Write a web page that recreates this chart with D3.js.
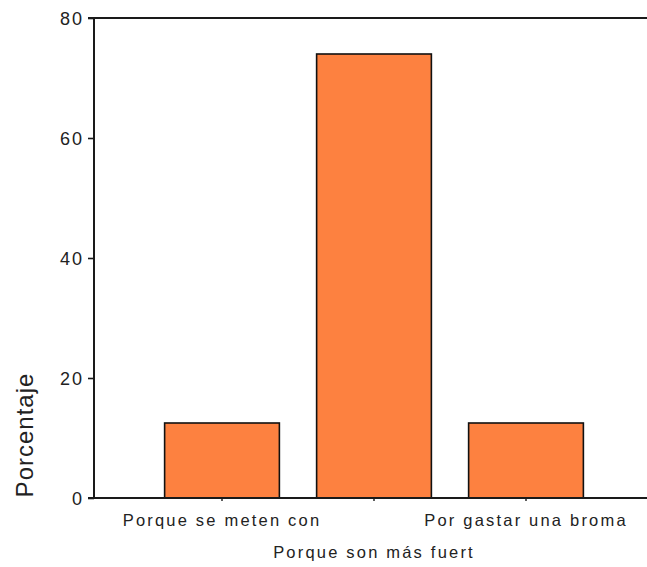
<!DOCTYPE html>
<html>
<head>
<meta charset="utf-8">
<script src="https://cdn.jsdelivr.net/npm/d3@7"></script>
<style>
  html, body { margin: 0; padding: 0; background: #fff; }
  svg { display: block; }
</style>
</head>
<body>
<script>
const categories = ["Porque se meten con", "Porque son más fuertes", "Por gastar una broma"];
const tickLabels = ["Porque se meten con", "", "Por gastar una broma"];
const values = [12.5, 74.0, 12.5];
const yTicks = [0, 20, 40, 60, 80];
const xTitle = "Porque son más fuert";
const yTitle = "Porcentaje";

const W = 647, H = 567;
const svg = d3.select("body").append("svg").attr("width", W).attr("height", H);

const axisLeftX = 94, plotTop = 18, plotBottom = 498, rightEdge = 647;
const y = d3.scaleLinear().domain([0, 80]).range([plotBottom, plotTop]);
const x = d3.scaleBand().domain(categories).range([146, 602])
  .paddingInner(0.245).paddingOuter(0.1225);

const font = "'Liberation Sans', Arial, sans-serif";
const lineColor = "#1a1a1a";

// bars
svg.append("g").selectAll("rect").data(categories).join("rect")
  .attr("x", d => x(d))
  .attr("y", (d, i) => y(values[i]))
  .attr("width", x.bandwidth())
  .attr("height", (d, i) => y(0) - y(values[i]))
  .attr("fill", "#fd8140")
  .attr("stroke", "#111")
  .attr("stroke-width", 1.6);

// y axis
const gy = svg.append("g").attr("transform", `translate(${axisLeftX},0)`)
  .call(d3.axisLeft(y).tickValues(yTicks).tickSize(6).tickPadding(4).tickFormat(d3.format("d")));
gy.select(".domain").remove();
gy.selectAll(".tick line").attr("stroke", lineColor).attr("stroke-width", 1.6);
gy.selectAll(".tick text")
  .attr("font-family", font).attr("font-size", 18).attr("fill", "#222")
  .style("letter-spacing", "2px").attr("dy", "0.36em");
svg.append("line").attr("x1", axisLeftX).attr("x2", axisLeftX)
  .attr("y1", plotTop).attr("y2", plotBottom)
  .attr("stroke", lineColor).attr("stroke-width", 2);

// top line
svg.append("line").attr("x1", axisLeftX - 6).attr("x2", rightEdge)
  .attr("y1", plotTop).attr("y2", plotTop)
  .attr("stroke", lineColor).attr("stroke-width", 2);

// x axis
const gx = svg.append("g").attr("transform", `translate(0,${plotBottom})`)
  .call(d3.axisBottom(x).tickSize(3).tickFormat((d, i) => tickLabels[i]));
gx.select(".domain").remove();
gx.selectAll(".tick line").attr("stroke", lineColor).attr("stroke-width", 1.4);
gx.selectAll(".tick text")
  .attr("font-family", font).attr("font-size", 16.5).attr("fill", "#222")
  .style("letter-spacing", "2.2px").attr("y", 16.5).attr("dy", "0.71em");
svg.append("line").attr("x1", axisLeftX - 6).attr("x2", rightEdge)
  .attr("y1", plotBottom).attr("y2", plotBottom)
  .attr("stroke", lineColor).attr("stroke-width", 2);

// titles
svg.append("text").attr("x", 374).attr("y", 558)
  .attr("text-anchor", "middle").attr("font-family", font).attr("font-size", 16.5)
  .attr("fill", "#222").style("letter-spacing", "2.2px").text(xTitle);

svg.append("text").attr("transform", "translate(33,435) rotate(-90)")
  .attr("text-anchor", "middle").attr("font-family", font).attr("font-size", 24)
  .attr("fill", "#222").style("letter-spacing", "1px").text(yTitle);
</script>
</body>
</html>
